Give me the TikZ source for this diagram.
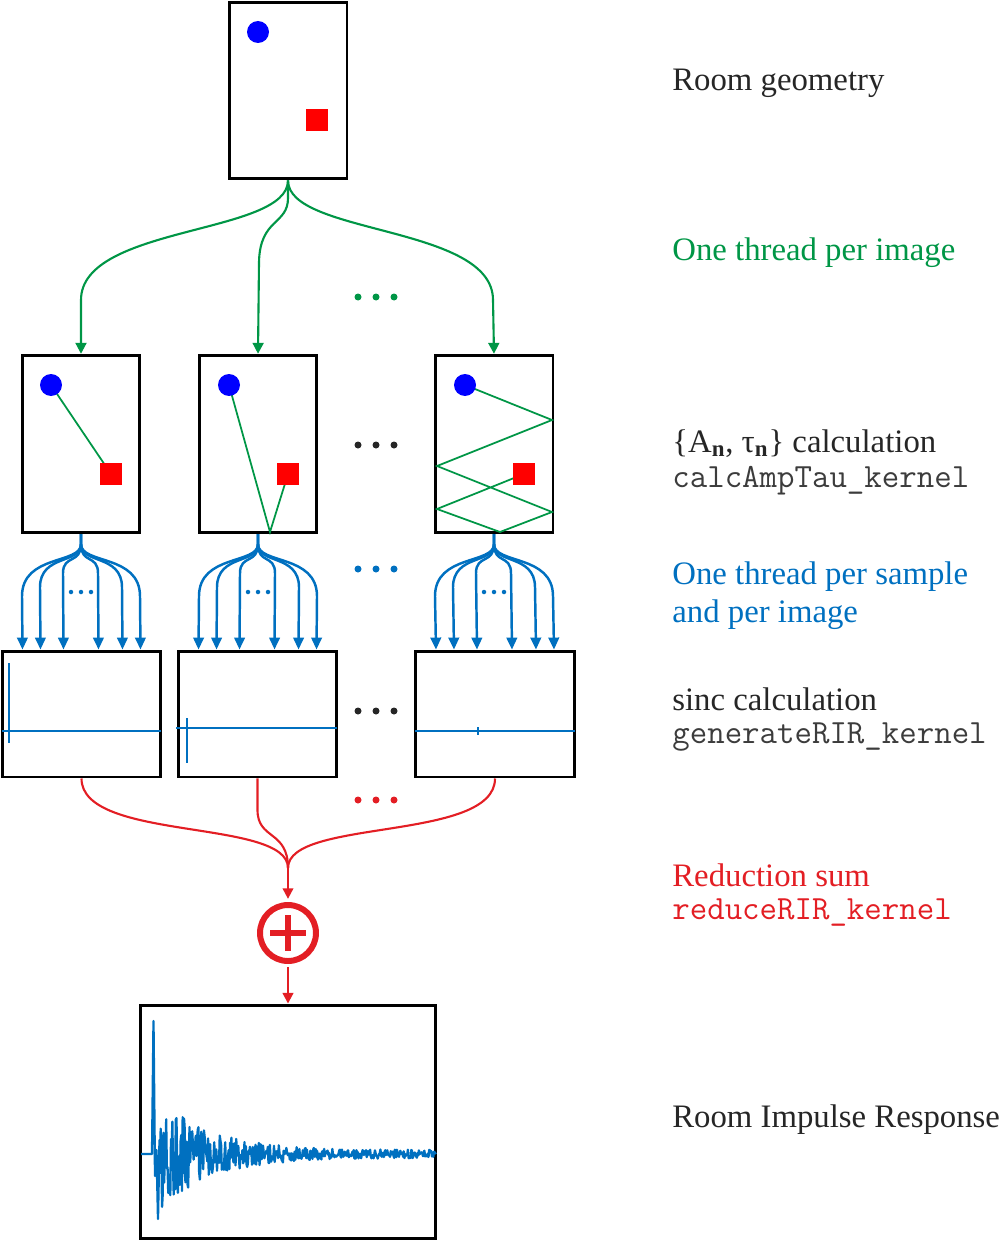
\documentclass[tikz,border=0pt]{standalone}
\usepackage{fontspec}
\setmainfont{Liberation Serif}
\usetikzlibrary{arrows.meta,calc}
\definecolor{cgreen}{RGB}{0,150,70}
\definecolor{cblue}{RGB}{0,112,192}
\definecolor{cred}{RGB}{227,30,36}
\definecolor{ctext}{RGB}{38,38,38}
\definecolor{cmono}{RGB}{60,60,60}
\begin{document}
\begin{tikzpicture}[x=0.02cm,y=-0.02cm,
 room/.style={draw=black, line width=1.7pt, rectangle, minimum width=2.36cm, minimum height=3.55cm, inner sep=0},
 sigbox/.style={draw=black, line width=1.7pt, rectangle, minimum width=3.18cm, minimum height=2.52cm, inner sep=0},
 src/.style={circle, fill=blue, minimum size=0.44cm, inner sep=0},
 rcv/.style={rectangle, fill=red, minimum size=0.45cm, inner sep=0},
 ray/.style={cgreen, line width=1pt},
 garrow/.style={cgreen, line width=1.2pt, -{Triangle[length=6.2pt,width=6.2pt]}},
 barrow/.style={cblue, line width=1.4pt, -{Triangle[length=6.8pt,width=6pt]}},
 rline/.style={cred, line width=1.2pt},
 rarrow/.style={cred, line width=1.2pt, -{Triangle[length=6pt,width=6pt]}},
 sig/.style={cblue, line width=0.6pt},
 lbl/.style={anchor=base west, inner sep=0, font=\fontsize{18.65}{22}\selectfont, text=ctext},
 code/.style={anchor=base west, inner sep=0, font=\fontsize{19.3}{20}\selectfont\ttfamily, text=cmono},
]
\useasboundingbox (0,0) rectangle (1002,1240);

% rooms
\node[room, minimum height=3.54cm] (top) at (288,90.5) {};
\node[room] (m1) at (81,444) {};
\node[room] (m2) at (258,444) {};
\node[room] (m3) at (494,444) {};

% sources / receivers positions
\coordinate (p0) at (258,32);  \coordinate (q0) at (317,120);
\coordinate (p1) at (51,385);  \coordinate (q1) at (111,474);
\coordinate (p2) at (229,385); \coordinate (q2) at (288,474);
\coordinate (p3) at (465,385); \coordinate (q3) at (524,474);

% rays
\draw[ray] (p1) -- (q1);
\draw[ray] (p2) -- (270,532) -- (q2);
\draw[ray] (p3) -- (552,420) -- (437,466) -- (552,512) -- (500,532) -- (437,509) -- (q3);

\foreach \i in {0,1,2,3}{
  \node[src] (src\i) at (p\i) {};
  \node[rcv] (rcv\i) at (q\i) {};
}

% green arrows
\draw[garrow] (top.south) .. controls (288,235) and (81,225) .. (81,300) -- (m1.north);
\draw[garrow] (top.south) -- (288,198) .. controls (288,225) and (260,218) .. (259,262) -- (m2.north);
\draw[garrow] (top.south) .. controls (288,235) and (493,225) .. (493,300) -- (m3.north);

% signal boxes
\node[sigbox] (s1) at (81.5,714) {};
\node[sigbox] (s2) at (257.5,714) {};
\node[sigbox, minimum width=3.2cm] (s3) at (495,714) {};

\draw[sig] (2,731) -- (161,731);
\draw[sig, line width=0.8pt] (9,663) -- (9,743);
\draw[sig] (176,728) -- (337,728);
\draw[sig, line width=0.8pt] (187,718) -- (187,763);
\draw[sig] (415,731) -- (575,731);
\draw[sig, line width=0.8pt] (478,727) -- (478,735);

% blue fans
\foreach \b/\s in {m1/s1,m2/s2,m3/s3}{
  \foreach \d/\e in {-59/62,-41/53,-18/39,17/39,41/53,59/62}{
    \draw[barrow] (\b.south) -- ($(\b.south)+(0,10)$)
      .. controls ($(\b.south)+(0,30)$) and ($(\b.south)+(\d,20)$) .. ($(\b.south)+(\d,\e)$)
      -- ($(\s.north)+(\d,0)$);
  }
}
\foreach \c in {81,258,494}{
  \foreach \dx in {-10,0,10}{
    \fill[cblue] (\c+\dx,592) circle[radius=0.045cm];
  }
}

% dots between columns
\foreach \x in {358,376,394}{
  \fill[cgreen] (\x,297) circle[radius=0.07cm];
  \fill[black!85] (\x,445) circle[radius=0.07cm];
  \fill[cblue] (\x,569) circle[radius=0.07cm];
  \fill[black!85] (\x,711) circle[radius=0.07cm];
  \fill[cred] (\x,800) circle[radius=0.07cm];
}

% sum node
\node[circle, draw=cred, line width=3.4pt, minimum size=1.12cm, inner sep=0, fill=white] (sum) at (288,933) {};
\draw[cred, line width=2.9pt] ($(sum.center)+(-18,0)$) -- ($(sum.center)+(18,0)$);
\draw[cred, line width=2.9pt] ($(sum.center)+(0,-18)$) -- ($(sum.center)+(0,18)$);

% red reduction
\coordinate (merge) at (288,868);
\draw[rline] (s1.south) .. controls (81.5,842) and (288,818) .. (merge);
\draw[rline] (s2.south) -- (257.5,810) .. controls (257.5,840) and (288,830) .. (merge);
\draw[rline] (s3.south) .. controls (495,842) and (288,818) .. (merge);
\draw[rarrow, shorten >=1.8pt] (merge) -- (sum.north);

% RIR box
\node[draw=black, line width=1.7pt, rectangle, minimum width=5.92cm, minimum height=4.68cm, inner sep=0] (rir) at (288,1122) {};
\draw[rarrow, shorten <=1.8pt] (sum.south) -- (rir.north);

\pgfmathsetseed{7}
\draw[cblue, line width=1.3pt, line join=round]
  (141,1154) -- (152,1154) -- (153.5,1021) -- (155,1176) -- (156.5,1150) -- (158,1219) -- (159.5,1140)
  -- plot[domain=160:434, samples=400, variable=\t] ({\t},{1154 + rand*(52*exp(-(\t-160)/50)+4)})
  -- (436,1154);

% labels
\node[lbl] (t1) at (672,91) {Room geometry};
\node[lbl, text=cgreen] (t2) at (672,260) {One thread per image};
\node[lbl] (t3) at (672,452) {\{A\textsubscript{\textbf{n}}, τ\textsubscript{\textbf{n}}\} calculation};
\node[code] (t4) at (672,487) {calcAmpTau\_kernel};
\node[lbl, text=cblue] (t5) at (672,584) {One thread per sample};
\node[lbl, text=cblue] (t6) at (672,622) {and per image};
\node[lbl] (t7) at (672,710) {sinc calculation};
\node[code] (t8) at (672,743) {generateRIR\_kernel};
\node[lbl, text=cred] (t9) at (672,886) {Reduction sum};
\node[code, text=cred] (t10) at (672,919) {reduceRIR\_kernel};
\node[lbl] (t11) at (672,1127) {Room Impulse Response};
\end{tikzpicture}
\end{document}
